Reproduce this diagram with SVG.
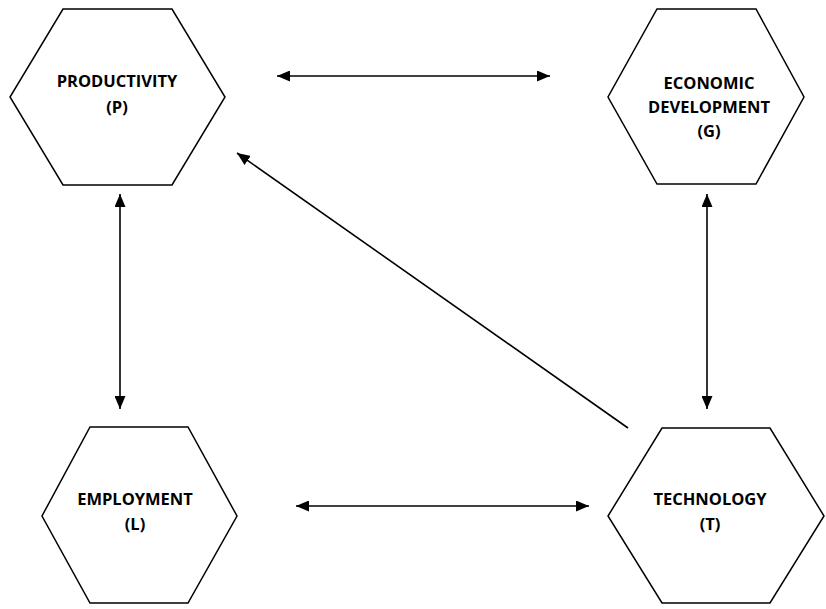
<svg xmlns="http://www.w3.org/2000/svg" width="826" height="609" viewBox="0 0 826 609">
<style>
.hex{fill:#fff;stroke:#000;stroke-width:1.5}
.lbl{font-family:"Open Sans","Liberation Sans",sans-serif;font-weight:bold;font-size:16.5px;fill:#000;text-anchor:middle}
.c{stroke:#000;stroke-width:1.6;fill:none}
</style>
<defs>
<marker id="ah" viewBox="0 0 13 11" refX="13" refY="5.5" markerWidth="13" markerHeight="11" markerUnits="userSpaceOnUse" orient="auto-start-reverse">
<path d="M0,0 L13,5.5 L0,11 Z" fill="#000"/>
</marker>
</defs>
<rect width="826" height="609" fill="#fff"/>
<g id="connectors">
<line class="c" x1="277" y1="76" x2="550" y2="76" marker-start="url(#ah)" marker-end="url(#ah)"/>
<line class="c" x1="120" y1="194" x2="120" y2="409" marker-start="url(#ah)" marker-end="url(#ah)"/>
<line class="c" x1="707" y1="194" x2="707" y2="409" marker-start="url(#ah)" marker-end="url(#ah)"/>
<line class="c" x1="296" y1="506" x2="589" y2="506" stroke-width="2" marker-start="url(#ah)" marker-end="url(#ah)"/>
<line class="c" x1="628" y1="428" x2="237" y2="153" marker-end="url(#ah)"/>
</g>
<g id="node-P">
<polygon class="hex" points="63,9 172,9 225,97 172,185 63,185 10,97"/>
<text class="lbl" x="117" y="87">PRODUCTIVITY</text>
<text class="lbl" x="117" y="113">(P)</text>
</g>
<g id="node-G">
<polygon class="hex" points="657,9 756,9 804,97 756,184 657,184 608,97"/>
<text class="lbl" x="709" y="89">ECONOMIC</text>
<text class="lbl" x="709" y="113">DEVELOPMENT</text>
<text class="lbl" x="709" y="137">(G)</text>
</g>
<g id="node-L">
<polygon class="hex" points="90,427 188,427 237,516 188,603 90,603 42,516"/>
<text class="lbl" x="135" y="505">EMPLOYMENT</text>
<text class="lbl" x="135" y="530">(L)</text>
</g>
<g id="node-T">
<polygon class="hex" points="662,428 770,428 824,516 770,603 662,603 608,516"/>
<text class="lbl" x="710" y="505">TECHNOLOGY</text>
<text class="lbl" x="710" y="530">(T)</text>
</g>
</svg>
